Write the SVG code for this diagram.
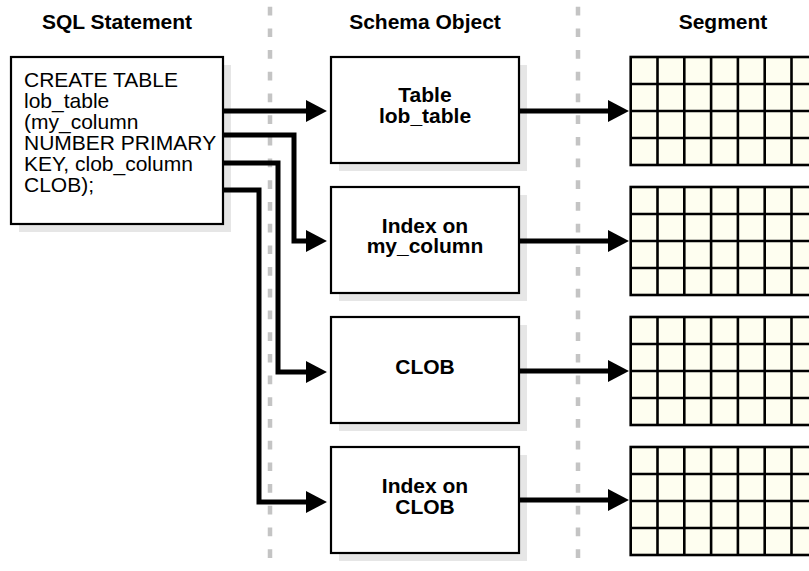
<svg xmlns="http://www.w3.org/2000/svg" width="809" height="571" viewBox="0 0 809 571">
<style>
.hdr{font-family:"Liberation Sans",Arial,Helvetica,sans-serif;font-weight:bold;font-size:21px;fill:#000;text-anchor:middle}
.sql{font-family:"Liberation Sans",Arial,Helvetica,sans-serif;font-size:21px;fill:#000}
.lbl{font-family:"Liberation Sans",Arial,Helvetica,sans-serif;font-weight:bold;font-size:21px;fill:#000;text-anchor:middle}
.box{fill:#fff;stroke:#000;stroke-width:2.2}
.shadow{fill:#e6e6e6}
.divider{stroke:#c4c4c4;stroke-width:4.5;stroke-dasharray:8.7 13;fill:none}
.conn{fill:none;stroke:#000;stroke-width:5;stroke-linejoin:miter;stroke-linecap:butt}
.grid{fill:#fefef0;stroke:#000;stroke-width:2.6}
.gridline{fill:none;stroke:#000;stroke-width:2.6}
</style>
<defs>
<marker id="arrow" markerUnits="userSpaceOnUse" markerWidth="22" markerHeight="22" viewBox="0 0 20 21" refX="0" refY="10.5" orient="auto">
<path d="M0,0 L20,10.5 L0,21 Z" fill="#000"/>
</marker>
</defs>
<rect width="809" height="571" fill="#fff"/>
<g id="dividers">
<line class="divider" x1="270" y1="6.7" x2="270" y2="571"/>
<line class="divider" x1="578" y1="6.7" x2="578" y2="571"/>
</g>
<g id="headers">
<text class="hdr" x="117" y="29">SQL Statement</text>
<text class="hdr" x="425" y="29">Schema Object</text>
<text class="hdr" x="723" y="29">Segment</text>
</g>
<g id="sql-statement">
<rect class="shadow" x="19" y="65" width="212" height="167"/>
<rect class="box" x="11" y="57" width="212" height="167"/>
<text class="sql" x="24" y="87.3"><tspan x="24">CREATE TABLE</tspan><tspan x="24" dy="20.9">lob_table</tspan><tspan x="24" dy="20.9">(my_column</tspan><tspan x="24" dy="20.9">NUMBER PRIMARY</tspan><tspan x="24" dy="20.9">KEY, clob_column</tspan><tspan x="24" dy="20.9">CLOB);</tspan></text>
</g>
<g id="table-lob_table">
<rect class="shadow" x="339" y="65" width="188" height="106"/>
<rect class="box" x="331" y="57" width="188" height="106"/>
<text class="lbl" x="425" y="102"><tspan x="425">Table</tspan><tspan x="425" dy="20.9">lob_table</tspan></text>
</g>
<g id="index-my_column">
<rect class="shadow" x="339" y="195" width="188" height="106"/>
<rect class="box" x="331" y="187" width="188" height="106"/>
<text class="lbl" x="425" y="232.5"><tspan x="425">Index on</tspan><tspan x="425" dy="20.9">my_column</tspan></text>
</g>
<g id="clob">
<rect class="shadow" x="339" y="325" width="188" height="106"/>
<rect class="box" x="331" y="317" width="188" height="106"/>
<text class="lbl" x="425" y="374">CLOB</text>
</g>
<g id="index-clob">
<rect class="shadow" x="339" y="455" width="188" height="106"/>
<rect class="box" x="331" y="447" width="188" height="106"/>
<text class="lbl" x="425" y="493"><tspan x="425">Index on</tspan><tspan x="425" dy="20.9">CLOB</tspan></text>
</g>
<g id="segment-1">
<rect class="grid" x="630.7" y="57" width="200" height="108"/>
<path class="gridline" d="M657.5,57V165M684.3,57V165M711.1,57V165M737.9,57V165M764.7,57V165M791.5,57V165M630.7,84H809M630.7,111H809M630.7,138H809"/>
</g>
<g id="segment-2">
<rect class="grid" x="630.7" y="187" width="200" height="108"/>
<path class="gridline" d="M657.5,187V295M684.3,187V295M711.1,187V295M737.9,187V295M764.7,187V295M791.5,187V295M630.7,214H809M630.7,241H809M630.7,268H809"/>
</g>
<g id="segment-3">
<rect class="grid" x="630.7" y="317" width="200" height="108"/>
<path class="gridline" d="M657.5,317V425M684.3,317V425M711.1,317V425M737.9,317V425M764.7,317V425M791.5,317V425M630.7,344H809M630.7,371H809M630.7,398H809"/>
</g>
<g id="segment-4">
<rect class="grid" x="630.7" y="447" width="200" height="108"/>
<path class="gridline" d="M657.5,447V555M684.3,447V555M711.1,447V555M737.9,447V555M764.7,447V555M791.5,447V555M630.7,474H809M630.7,501H809M630.7,528H809"/>
</g>
<g id="connectors">
<path class="conn" marker-end="url(#arrow)" d="M224,111 H306"/>
<path class="conn" marker-end="url(#arrow)" d="M224,135 H294 V241 H306"/>
<path class="conn" marker-end="url(#arrow)" d="M224,163 H278 V372 H306"/>
<path class="conn" marker-end="url(#arrow)" d="M224,190 H259 V502 H306"/>
<path class="conn" marker-end="url(#arrow)" d="M520,111 H608"/>
<path class="conn" marker-end="url(#arrow)" d="M520,241 H608"/>
<path class="conn" marker-end="url(#arrow)" d="M520,371 H608"/>
<path class="conn" marker-end="url(#arrow)" d="M520,500 H608"/>
</g>
</svg>
